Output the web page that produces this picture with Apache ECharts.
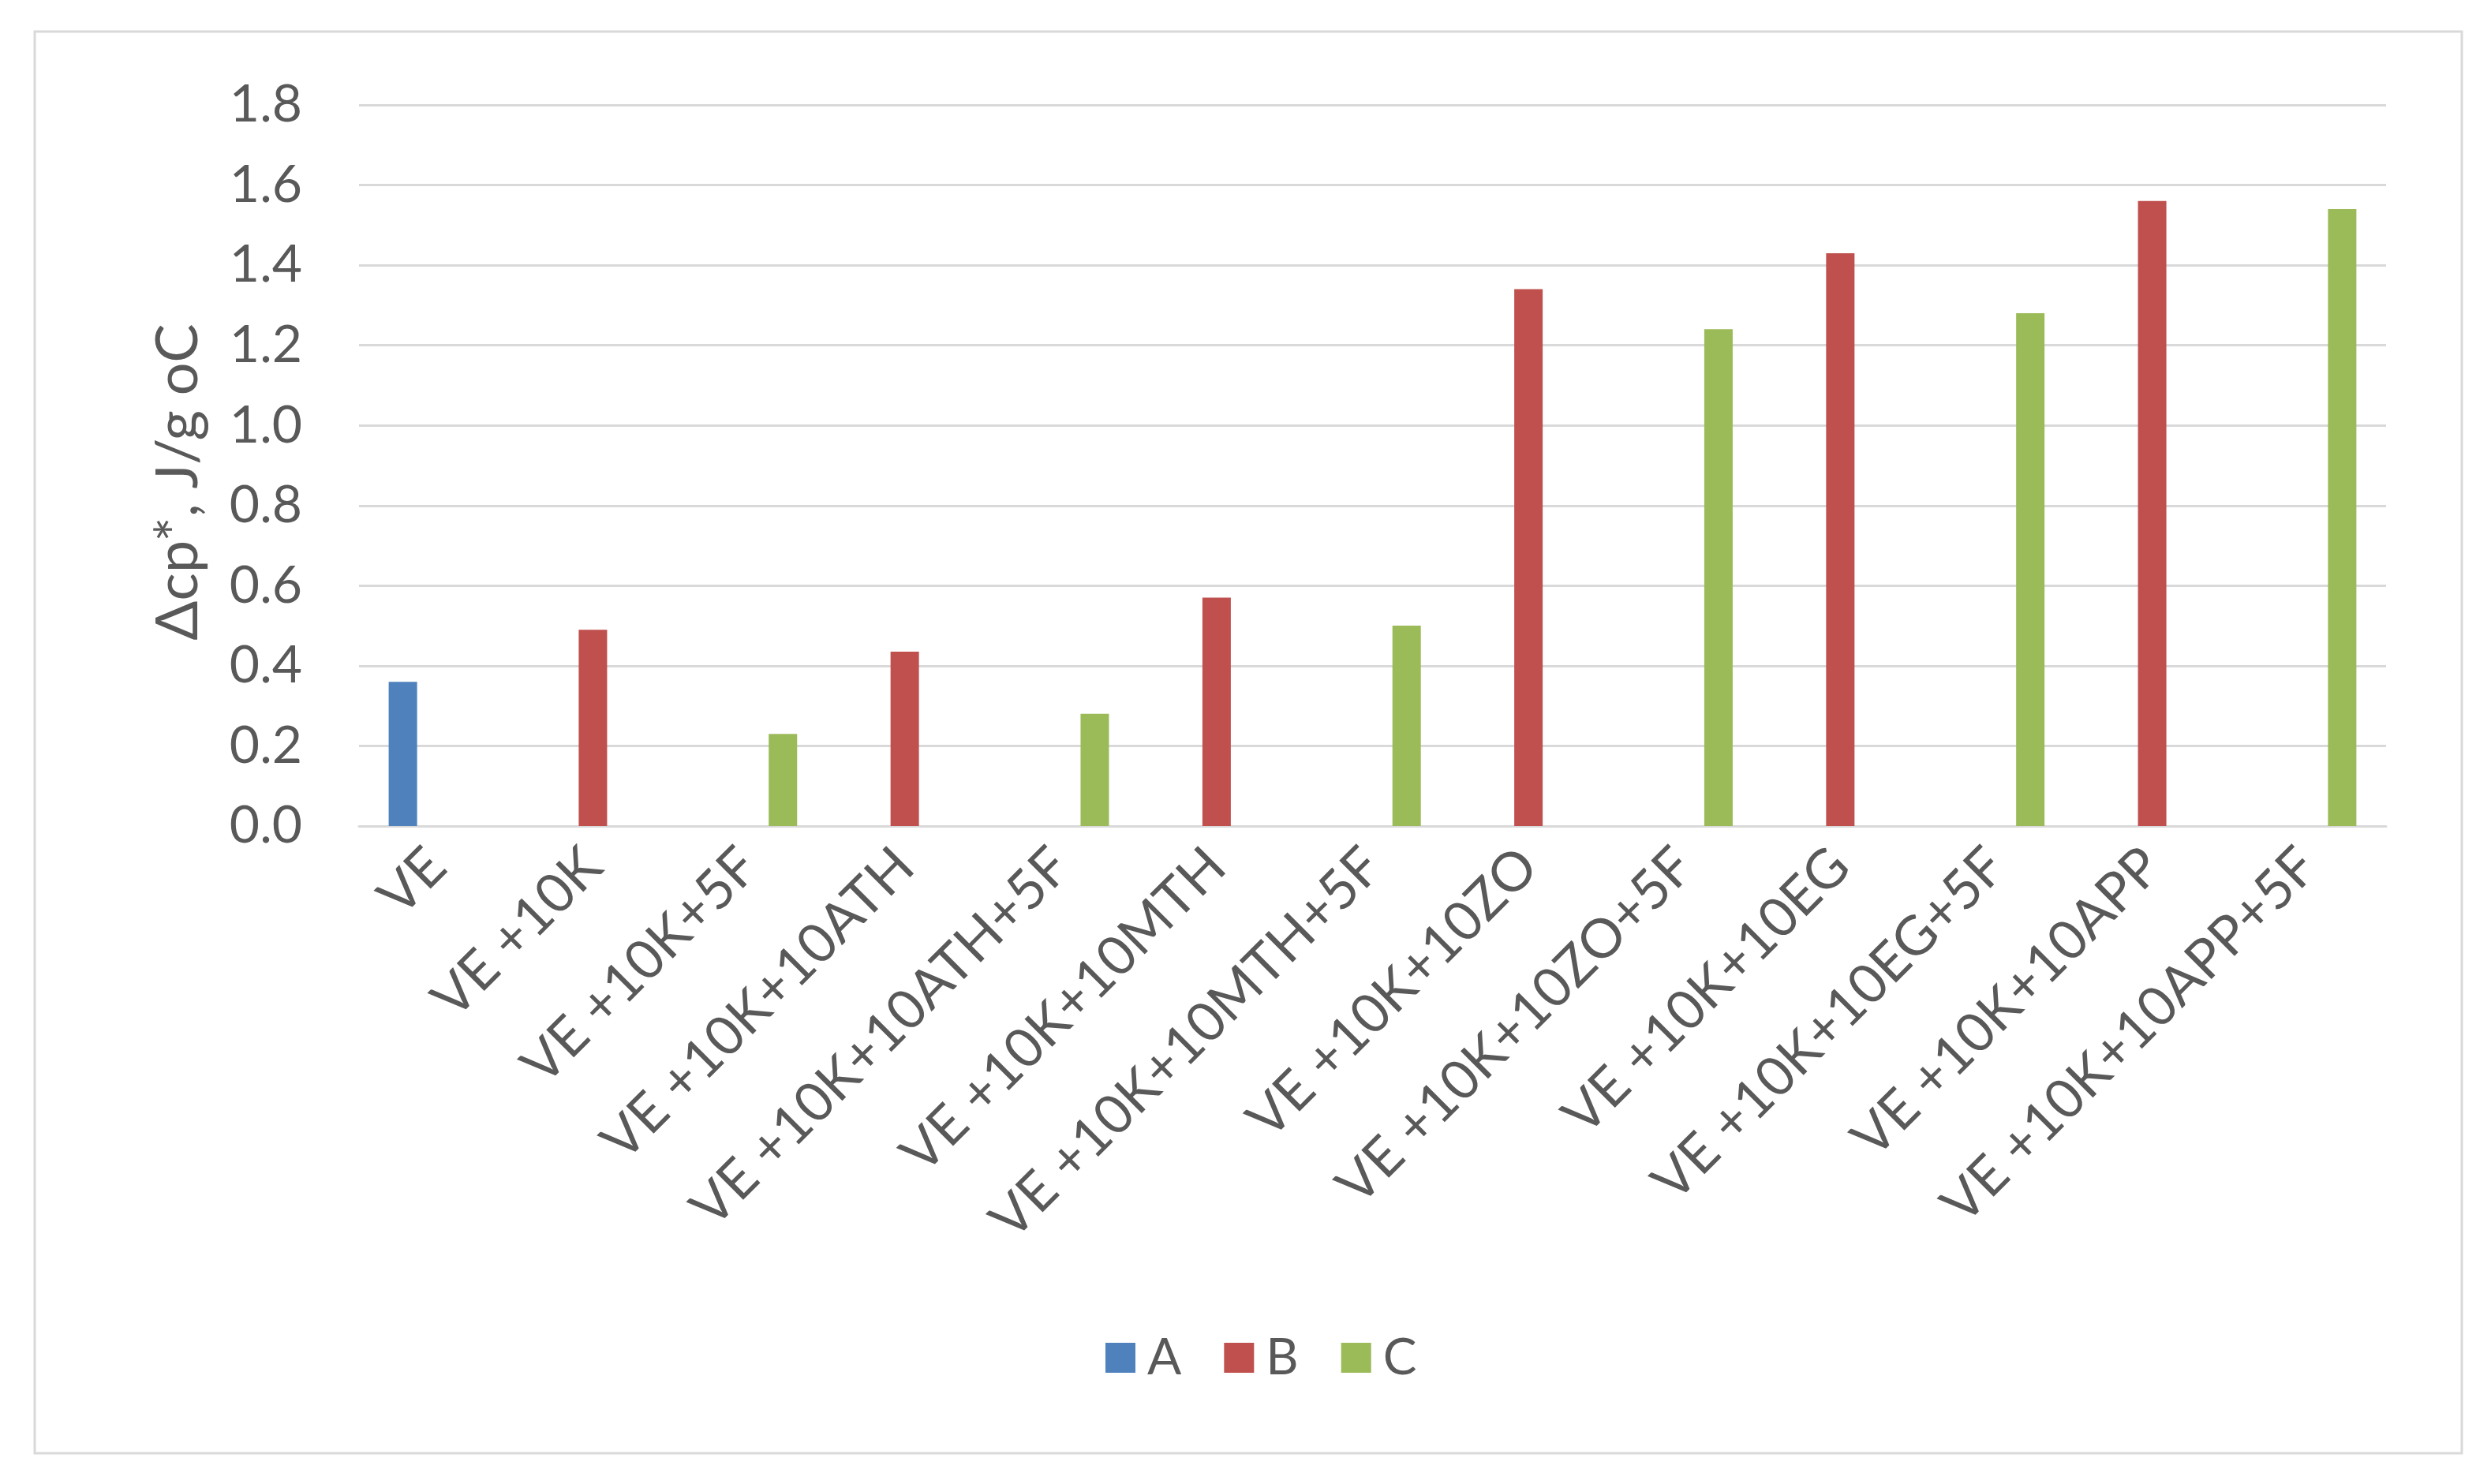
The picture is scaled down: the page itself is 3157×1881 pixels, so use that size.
<!DOCTYPE html>
<html><head><meta charset="utf-8">
<script src="https://cdn.jsdelivr.net/npm/echarts@6/dist/echarts.min.js"></script>
<style>html,body{margin:0;padding:0;background:#fff}#c{width:3157px;height:1881px}</style>
</head><body><div id="c"></div>
<script>
var categories = ["VE", "VE +10K", "VE +10K+5F", "VE +10K+10ATH", "VE +10K+10ATH+5F", "VE +10K+10MTH", "VE +10K+10MTH+5F", "VE +10K+10ZO", "VE +10K+10ZO+5F", "VE +10K+10EG", "VE +10K+10EG+5F", "VE +10K+10APP", "VE +10K+10APP+5F"];
var seriesA = [0.36, null, null, null, null, null, null, null, null, null, null, null, null];
var seriesB = [null, 0.49, null, 0.435, null, 0.57, null, 1.34, null, 1.43, null, 1.56, null];
var seriesC = [null, null, 0.23, null, 0.28, null, 0.50, null, 1.24, null, 1.28, null, 1.54];
var yTicks = {min: 0, max: 1.8, interval: 0.2};

var FONT = 'Lato';
var TXT = '#595959';
var chart = echarts.init(document.getElementById('c'));
chart.setOption({
  backgroundColor: '#fff',
  textStyle: {fontFamily: FONT},
  graphic: [{type: 'rect', shape: {x: 44, y: 40, width: 3076, height: 1802}, style: {fill: 'none', stroke: '#d9d9d9', lineWidth: 3}, silent: true}],
  legend: {
    data: ['A', 'B', 'C'], left: 1396, top: 1684,
    itemWidth: 38, itemHeight: 38, itemGap: 54,
    icon: 'rect',
    textStyle: {fontFamily: FONT, fontSize: 64, color: TXT, padding: [0, 0, 0, 10]}
  },
  grid: {left: 455, right: 133, top: 133, bottom: 834, containLabel: false},
  xAxis: {
    type: 'category', data: categories,
    axisLine: {lineStyle: {color: '#d9d9d9', width: 3}},
    axisTick: {show: false},
    axisLabel: {interval: 0, rotate: 45, margin: 40, fontFamily: FONT, fontSize: 69, color: TXT}
  },
  yAxis: {
    type: 'value', min: yTicks.min, max: yTicks.max, interval: yTicks.interval,
    name: 'Δcp*, J/g oC', nameLocation: 'middle', nameGap: 192,
    nameTextStyle: {fontFamily: FONT, fontSize: 74, color: TXT, padding: [0, 42, 0, 0]},
    axisLine: {show: false}, axisTick: {show: false},
    axisLabel: {margin: 72, fontFamily: FONT, fontSize: 66, color: TXT, formatter: function (v) { return v.toFixed(1); }},
    splitLine: {lineStyle: {color: '#d9d9d9', width: 3}}
  },
  series: [
    {name: 'A', type: 'bar', data: seriesA, barWidth: 36, barGap: '20%', itemStyle: {color: '#4F81BD'}},
    {name: 'B', type: 'bar', data: seriesB, barWidth: 36, barGap: '20%', itemStyle: {color: '#C0504D'}},
    {name: 'C', type: 'bar', data: seriesC, barWidth: 36, barGap: '20%', itemStyle: {color: '#9BBB59'}}
  ]
});
</script></body></html>
